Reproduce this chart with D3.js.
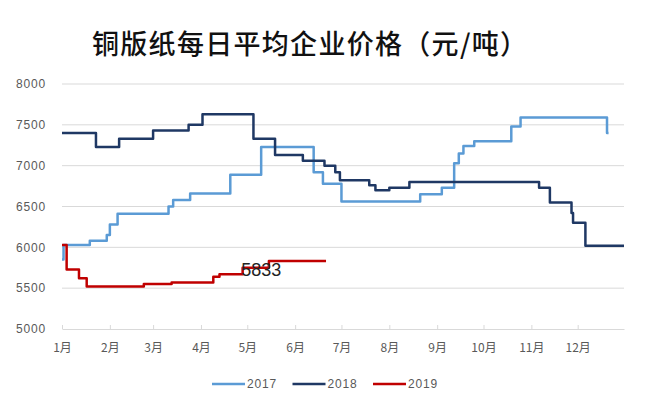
<!DOCTYPE html>
<html>
<head>
<meta charset="utf-8">
<script src="https://cdn.jsdelivr.net/npm/d3@7"></script>
<style>
    body { margin: 0; background: #fff; }
    svg { display: block; font-family: "Liberation Sans", Arial, sans-serif; }
</style>
</head>
<body>
<svg id="chart"></svg>
<script>
const title = '铜版纸每日平均企业价格（元/吨）';
const monthLabels = ['1月', '2月', '3月', '4月', '5月', '6月', '7月', '8月', '9月', '10月', '11月', '12月'];
const yTicks = [5000, 5500, 6000, 6500, 7000, 7500, 8000];
const seriesNames = ['2017', '2018', '2019'];

const dates2017 = ['01-01', '01-02', '01-19', '01-30', '02-01', '02-06', '03-11', '03-14', '03-25', '04-20', '05-10', '06-13', '06-19', '07-01', '08-21', '09-04', '09-12', '09-15', '09-18', '09-25', '10-19', '10-25', '12-20', '12-21'];
const values2017 = [5850, 6030, 6080, 6150, 6280, 6410, 6500, 6580, 6660, 6890, 7230, 6920, 6780, 6560, 6650, 6730, 7030, 7150, 7240, 7300, 7480, 7590, 7400, 7400];

const dates2018 = ['01-01', '01-23', '02-07', '03-01', '03-24', '04-02', '05-05', '05-19', '06-06', '06-20', '06-27', '06-30', '07-19', '07-23', '08-01', '08-14', '11-06', '11-13', '11-27', '11-28', '12-06', '12-31'];
const values2018 = [7400, 7230, 7330, 7430, 7500, 7630, 7330, 7130, 7060, 7000, 6920, 6820, 6760, 6700, 6730, 6800, 6730, 6550, 6420, 6300, 6020, 6020];

const dates2019 = ['01-01', '01-04', '01-12', '01-17', '02-23', '03-13', '04-09', '04-13', '04-28', '05-15', '06-21'];
const values2019 = [6030, 5730, 5620, 5520, 5550, 5570, 5640, 5670, 5750, 5833, 5833];

const lastLabel = { date: '05-10', value: 5833, text: '5833' };

const width = 665;
const height = 414;
const margin = { top: 84, right: 41, bottom: 85, left: 62 };
const colors = ['#5b9bd5', '#1f3864', '#c00000'];

const parseDay = d3.timeParse('%Y-%m-%d');
const toDate = md => parseDay('2017-' + md);

const series = [
    { name: seriesNames[0], points: dates2017.map((d, i) => ({ date: toDate(d), value: values2017[i] })) },
    { name: seriesNames[1], points: dates2018.map((d, i) => ({ date: toDate(d), value: values2018[i] })) },
    { name: seriesNames[2], points: dates2019.map((d, i) => ({ date: toDate(d), value: values2019[i] })) }
];

const svg = d3.select('#chart')
    .attr('width', width)
    .attr('height', height);

svg.append('rect')
    .attr('width', width)
    .attr('height', height)
    .attr('fill', '#fff');

const x = d3.scaleTime()
    .domain([toDate('01-01'), toDate('12-31')])
    .range([margin.left, width - margin.right]);

const y = d3.scaleLinear()
    .domain([5000, 8000])
    .range([height - margin.bottom, margin.top]);

// title
svg.append('text')
    .attr('x', 92)
    .attr('y', 54)
    .attr('font-family', '"Noto Sans CJK SC", sans-serif')
    .attr('font-size', 27)
    .attr('font-weight', 500)
    .attr('letter-spacing', 1.3)
    .attr('fill', '#111')
    .text(title);

// grid lines
svg.append('g')
    .selectAll('line')
    .data(yTicks.filter(t => t > 5000))
    .enter()
    .append('line')
    .attr('x1', margin.left)
    .attr('x2', width - margin.right)
    .attr('y1', d => y(d))
    .attr('y2', d => y(d))
    .attr('stroke', '#d9d9d9')
    .attr('stroke-width', 1);

// y labels
svg.append('g')
    .selectAll('text')
    .data(yTicks)
    .enter()
    .append('text')
    .attr('x', 46)
    .attr('y', d => y(d))
    .attr('dy', '0.35em')
    .attr('text-anchor', 'end')
    .attr('font-size', 12)
    .attr('letter-spacing', 0.8)
    .attr('fill', '#595959')
    .text(d => d);

// x axis
const monthStarts = d3.timeMonth.range(toDate('01-01'), toDate('12-31'));
const xAxis = d3.axisBottom(x)
    .tickValues(monthStarts)
    .tickSizeInner(-4)
    .tickSizeOuter(0)
    .tickPadding(14)
    .tickFormat((d, i) => monthLabels[i]);

const xg = svg.append('g')
    .attr('transform', `translate(0,${y(5000)})`)
    .call(xAxis);

xg.select('.domain').attr('stroke', '#d9d9d9');
xg.selectAll('.tick line').attr('stroke', '#d9d9d9');
xg.selectAll('.tick text')
    .attr('font-family', '"Noto Sans CJK SC", sans-serif')
    .attr('font-size', 12)
    .attr('fill', '#595959');

// lines
const line = d3.line()
    .x(d => x(d.date))
    .y(d => y(d.value))
    .curve(d3.curveStepAfter);

svg.append('g')
    .selectAll('path')
    .data(series)
    .enter()
    .append('path')
    .attr('d', d => line(d.points))
    .attr('fill', 'none')
    .attr('stroke', (d, i) => colors[i])
    .attr('stroke-width', 2.5)
    .attr('stroke-linejoin', 'round');

// value label
svg.append('text')
    .attr('x', x(toDate(lastLabel.date)))
    .attr('y', y(lastLabel.value))
    .attr('dy', 15)
    .attr('text-anchor', 'middle')
    .attr('font-size', 18)
    .attr('fill', '#222')
    .text(lastLabel.text);

// legend
const legend = svg.append('g')
    .attr('transform', 'translate(212,384)');

const item = legend.selectAll('g')
    .data(seriesNames)
    .enter()
    .append('g')
    .attr('transform', (d, i) => `translate(${i * 80.5},0)`);

item.append('line')
    .attr('x1', 0)
    .attr('x2', 33)
    .attr('stroke', (d, i) => colors[i])
    .attr('stroke-width', 2.5);

item.append('text')
    .attr('x', 35)
    .attr('dy', '0.35em')
    .attr('font-size', 12)
    .attr('letter-spacing', 0.8)
    .attr('fill', '#595959')
    .text(d => d);
</script>
</body>
</html>
